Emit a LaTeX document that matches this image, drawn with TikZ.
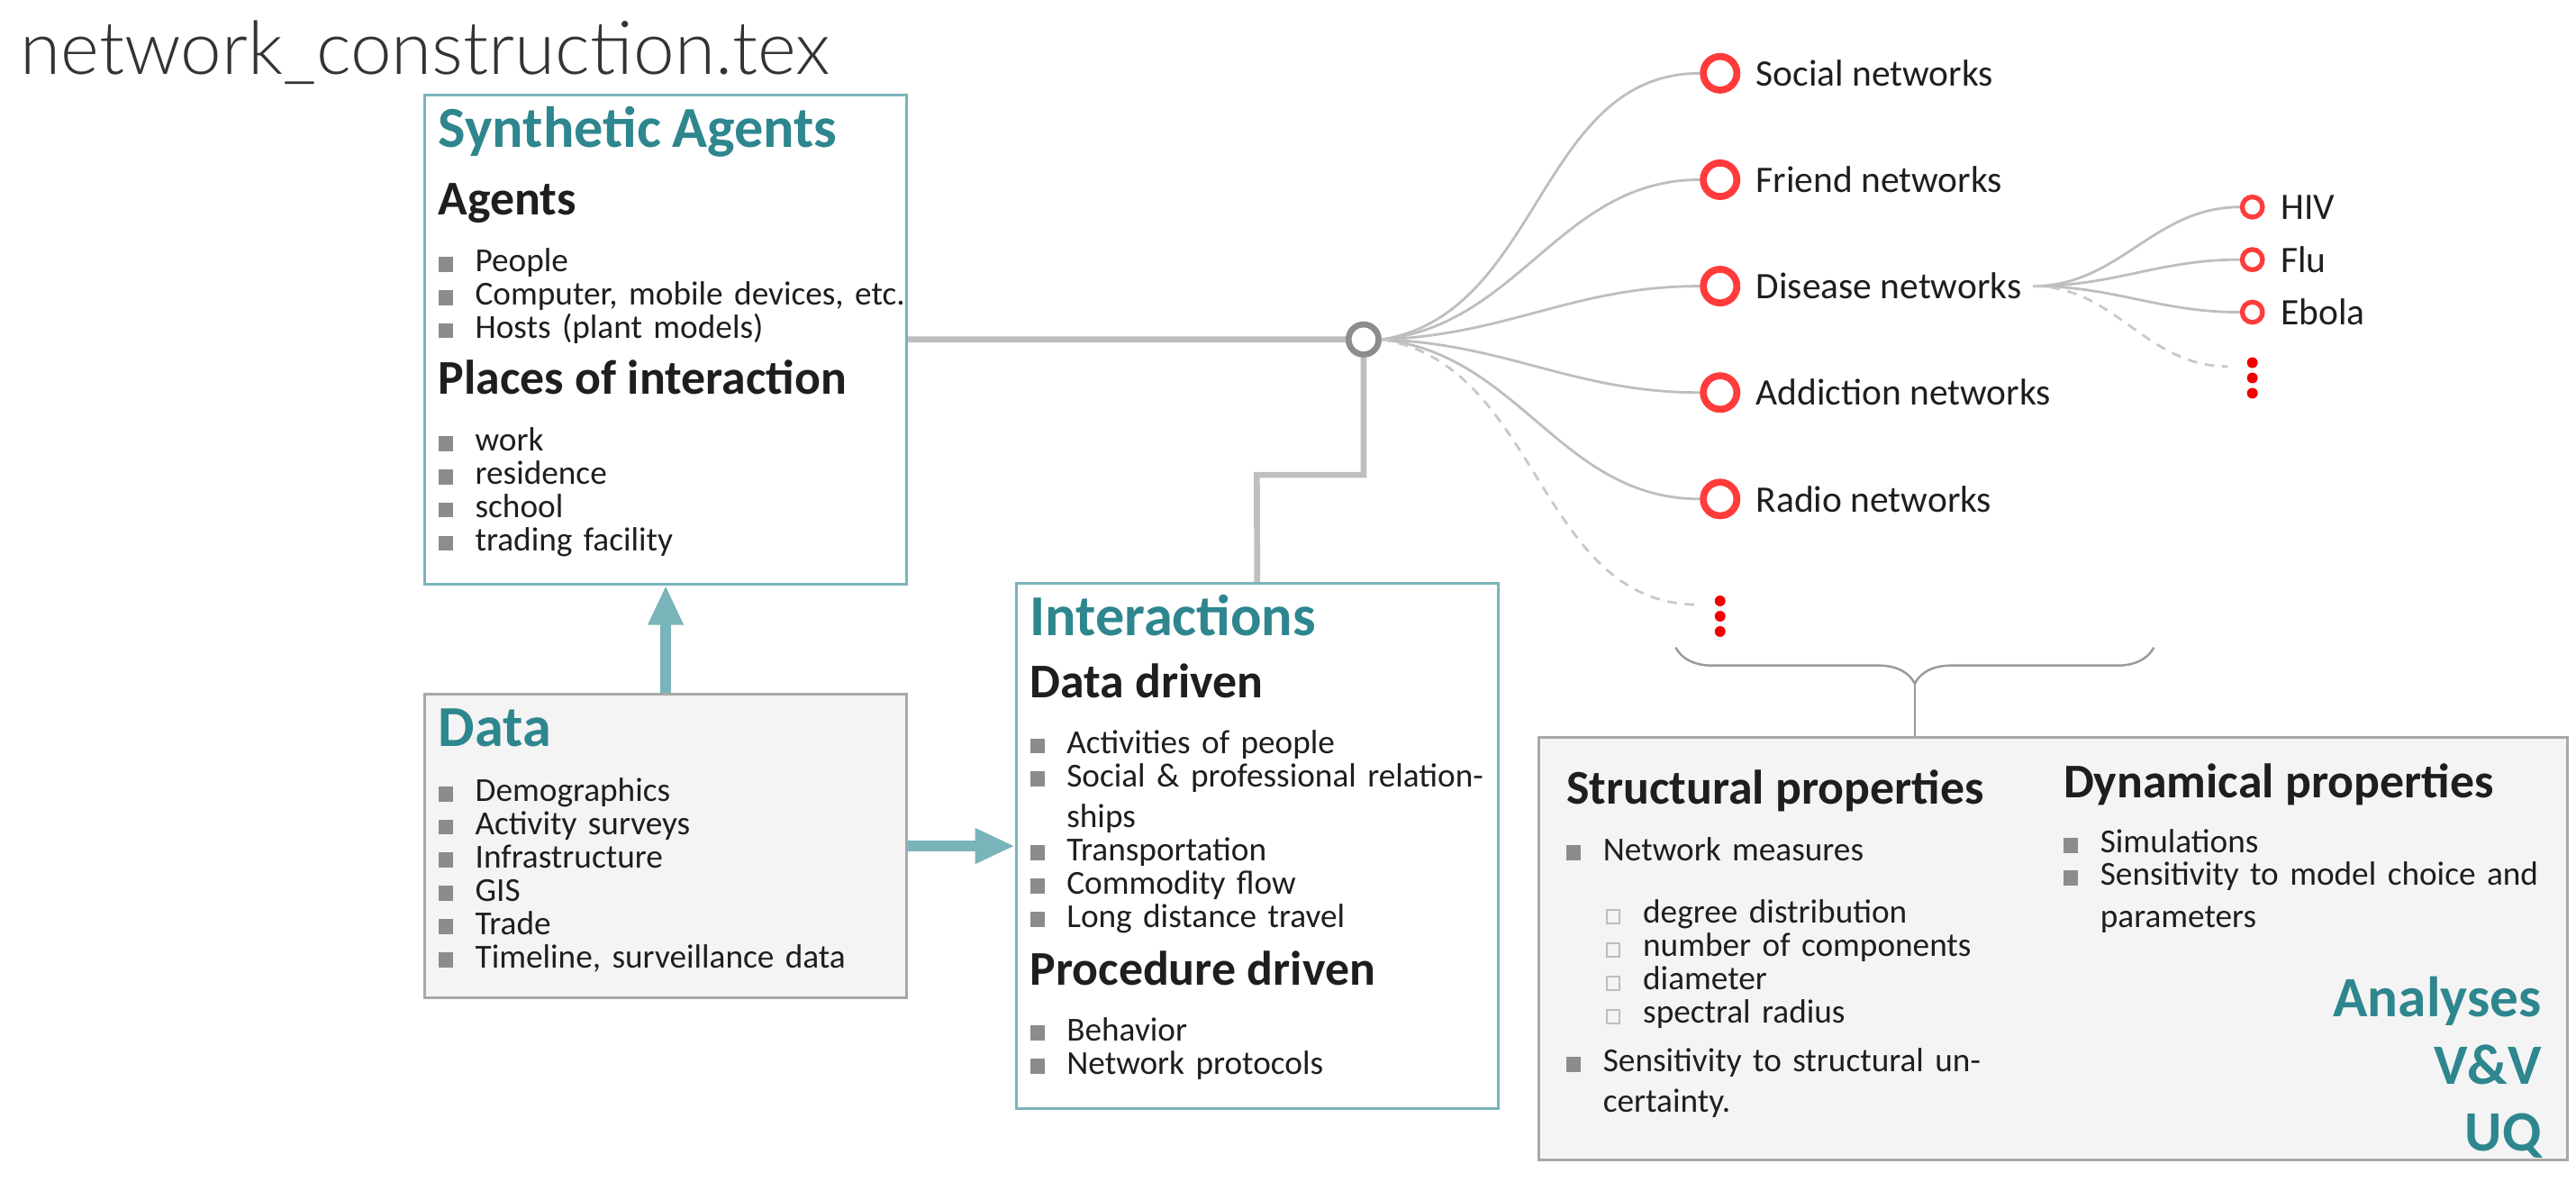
\documentclass[tikz,border=0pt]{standalone}
\usepackage{fontspec}
\setmainfont{Carlito}
\newfontfamily\thinfont{Lato Light}
\usetikzlibrary{positioning,arrows.meta,decorations.pathreplacing}

\definecolor{tealtext}{HTML}{2E868E}
\definecolor{tealline}{HTML}{79B4BA}
\definecolor{linkgray}{HTML}{BEBEBE}
\definecolor{hubgray}{HTML}{8C8C8C}
\definecolor{netred}{HTML}{FF3B3B}
\definecolor{dotred}{HTML}{F00000}
\definecolor{boxfill}{HTML}{F4F4F4}
\definecolor{boxline}{HTML}{A8A8A8}
\definecolor{bulletgray}{HTML}{8C8C8C}
\definecolor{hollowgray}{HTML}{BDBDBD}
\definecolor{bracegray}{HTML}{9A9A9A}
\definecolor{textdark}{HTML}{1E1E1E}
\definecolor{titlegray}{HTML}{333333}

% headings and bullets inside the boxes
\newcommand{\boxtitle}[1]{{\color{tealtext}\fontsize{18.3}{18}\selectfont\bfseries #1}}
\newcommand{\subhead}[1]{{\fontsize{15.3}{15}\selectfont\bfseries #1}}
\newcommand{\itm}{\makebox[11.6pt][l]{\textcolor{bulletgray}{\rule{4.6pt}{4.8pt}}}}
\newcommand{\itmgap}{\makebox[11.6pt]{}}
\newcommand{\subitm}{\makebox[12.6pt]{}\makebox[11.6pt][l]{\textcolor{hollowgray}{\fboxsep=0pt\fboxrule=0.5pt\fbox{\rule{0pt}{3.8pt}\hspace{3.4pt}}}}}
\newcommand{\reddots}[1]{\fill[dotred] (#1) circle (1.7pt) ++(0,-9.3) circle (1.7pt) ++(0,18.6) circle (1.7pt);}

\begin{document}
\begin{tikzpicture}[x=0.01824cm, y=-0.01824cm,
    tealbox/.style={draw=tealline, line width=0.8pt, fill=white, minimum width=152.3pt, inner sep=0pt},
    graybox/.style={draw=boxline, line width=0.8pt, fill=boxfill, inner sep=0pt},
    boxtext/.style={anchor=base west, inner sep=0pt, align=left, text width=9cm, text=textdark,
        font=\fontsize{10.6}{10.5}\selectfont, execute at begin node={\lineskiplimit=-100pt\lineskip=0pt}},
    hubline/.style={draw=linkgray, line width=1.9pt},
    feed/.style={draw=tealline, line width=3.2pt, -{Triangle[width=10.4pt,length=12.5pt]}},
    hubring/.style={circle, draw=hubgray, line width=1.9pt, fill=white, minimum size=9.5pt, inner sep=0pt},
    netring/.style={circle, draw=netred, line width=2.2pt, fill=white, minimum size=10.6pt, inner sep=0pt, on grid},
    subring/.style={circle, draw=netred, line width=1.5pt, fill=white, minimum size=6.4pt, inner sep=0pt, on grid},
    netlabel/.style={font=\fontsize{11.8}{12}\selectfont, text=textdark, inner sep=1.5pt},
    link/.style={draw=linkgray, line width=0.8pt},
    maybe/.style={draw=linkgray!85, line width=0.8pt, dash pattern=on 3pt off 2.5pt},
    label distance=3.3pt]
    \useasboundingbox (0,0) rectangle (1568,719);

    \node[anchor=base west, inner sep=0pt, text=titlegray, font=\thinfont\fontsize{23.3}{24}\selectfont] (pagetitle) at (12,45) {network\_construction.tex};

    % boxes
    \node[tealbox, minimum height=154.5pt] (sa) at (405.2,206.55) {};
    \node[graybox, minimum width=152.3pt, minimum height=96pt, below=33.9pt of sa] (data) {};
    \node[tealbox, minimum height=165.8pt, right=33.7pt of data] (inter) {};
    \node[graybox, minimum width=324.7pt, minimum height=133.4pt] (props) at (1249.8,577.5) {};

    \node[boxtext] (satext) at ([xshift=4.6pt,yshift=-16.9pt]sa.north west) {%
        \boxtitle{Synthetic Agents}\\[10.9pt]
        \subhead{Agents}\\[7.5pt]
        \itm People\\
        \itm Computer, mobile devices, etc.\\
        \itm Hosts (plant models)\\[7.1pt]
        \subhead{Places of interaction}\\[7.5pt]
        \itm work\\
        \itm residence\\
        \itm school\\
        \itm trading facility};
    \node[boxtext] (datatext) at ([xshift=4.6pt,yshift=-16.9pt]data.north west) {%
        \boxtitle{Data}\\[6.9pt]
        \itm Demographics\\
        \itm Activity surveys\\
        \itm Infrastructure\\
        \itm GIS\\
        \itm Trade\\
        \itm Timeline, surveillance data};
    \node[boxtext] (intertext) at ([xshift=4.6pt,yshift=-16.9pt]inter.north west) {%
        \boxtitle{Interactions}\\[9pt]
        \subhead{Data driven}\\[7.2pt]
        \itm Activities of people\\
        \itm Social \& professional relation-\\[2.3pt]
        \itmgap ships\\
        \itm Transportation\\
        \itm Commodity flow\\
        \itm Long distance travel\\[7.8pt]
        \subhead{Procedure driven}\\[7.1pt]
        \itm Behavior\\
        \itm Network protocols};
    \node[boxtext] (structtext) at ([xshift=8.8pt,yshift=-21.4pt]props.north west) {%
        \subhead{Structural properties}\\[7.25pt]
        \itm Network measures\\[9.2pt]
        \subitm degree distribution\\
        \subitm number of components\\
        \subitm diameter\\
        \subitm spectral radius\\[5pt]
        \itm Sensitivity to structural un-\\[2.3pt]
        \itmgap certainty.};
    \node[boxtext] (dyntext) at ([xshift=165.8pt,yshift=-19.3pt]props.north west) {%
        \subhead{Dynamical properties}\\[7pt]
        \itm Simulations\\[-0.3pt]
        \itm Sensitivity to model choice and\\[2.8pt]
        \itmgap parameters};
    \node[anchor=base east, inner sep=0pt, align=right, text width=4cm, text=tealtext,
          font=\fontsize{18}{21.07}\selectfont\bfseries] (goals) at ([xshift=-8.4pt,yshift=-88.6pt]props.north east) {%
        Analyses\\
        V\&V\\
        UQ};

    % arrows between boxes
    \draw[feed] (data.north) -- (sa.south);
    \draw[feed] (data.east) -- (inter.west);

    % hub
    \node[hubring] (hub) at (830,206.6) {};
    \coordinate (elbow) at (765,289);
    \draw[hubline] (sa.east) -- (hub.west);
    \draw[hubline] (hub.south) |- (elbow) -- (inter.north);

    % networks
    \node[netring, label={[netlabel]right:Social networks}] (social) at (1047,44.6) {};
    \node[netring, below=33.6pt of social, label={[netlabel]right:Friend networks}] (friend) {};
    \node[netring, below=33.6pt of friend, label={[netlabel, name=diseasename]right:Disease networks}] (disease) {};
    \node[netring, below=33.6pt of disease, label={[netlabel]right:Addiction networks}] (addiction) {};
    \node[netring, below=33.6pt of addiction, label={[netlabel]right:Radio networks}] (radio) {};
    \coordinate (netmore) at (1034,368);

    \draw[link] (hub.east) to[out=9,in=180] (social.west);
    \draw[link] (hub.east) to[out=6,in=180] (friend.west);
    \draw[link] (hub.east) to[out=2,in=180] (disease.west);
    \draw[link] (hub.east) to[out=-2,in=180] (addiction.west);
    \draw[link] (hub.east) to[out=-6,in=180] (radio.west);
    \draw[maybe] (hub.east) to[out=-9,in=180] (netmore);
    \reddots{1047,375}

    % disease types
    \node[subring, label={[netlabel]right:HIV}] (hiv) at (1371,126) {};
    \node[subring, below=16.6pt of hiv, label={[netlabel]right:Flu}] (flu) {};
    \node[subring, below=16.6pt of flu, label={[netlabel]right:Ebola}] (ebola) {};
    \coordinate (fork) at ([xshift=2pt]diseasename.east);
    \coordinate (submore) at (1356,223);

    \draw[link] (fork) to[out=0,in=180] (hiv.west);
    \draw[link] (fork) to[out=0,in=180] (flu.west);
    \draw[link] (fork) to[out=0,in=180] (ebola.west);
    \draw[maybe] (fork) to[out=0,in=180] (submore);
    \reddots{1371,230}

    % brace down to the properties box
    \draw[bracegray, line width=0.7pt, decorate, decoration={brace, amplitude=11.4pt}] (1311,394) -- (1020,394);
    \coordinate (bracetip) at (1165.5,416);
    \draw[bracegray, line width=0.7pt] (bracetip) -- (bracetip |- props.north);
\end{tikzpicture}
\end{document}
